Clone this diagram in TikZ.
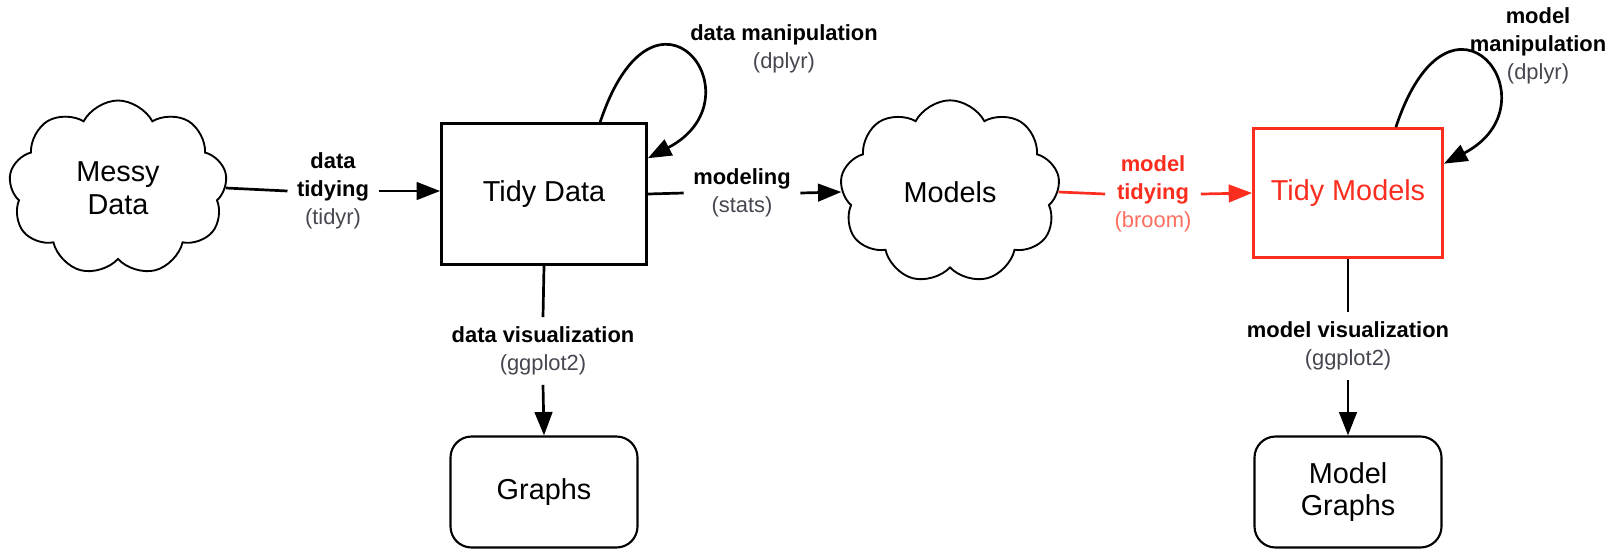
\documentclass[tikz,border=0pt]{standalone}
\usepackage{fontspec}
\setmainfont{Liberation Sans}
\usetikzlibrary{shapes.symbols,arrows.meta}
\definecolor{tidyred}{RGB}{250,45,30}
\definecolor{lightred}{RGB}{252,110,95}
\definecolor{pkggray}{RGB}{70,70,80}
\tikzset{
  blob/.style={cloud, cloud puffs=9, cloud puff arc=125, draw, line width=1.6pt, align=center, font=\fontsize{24.6}{28}\selectfont},
  box/.style={draw, line width=2.4pt, align=center, font=\fontsize{24.6}{28}\selectfont},
  result/.style={draw, rounded corners=18pt, line width=1.8pt, align=center, font=\fontsize{24.6}{28}\selectfont, minimum width=5.61cm, minimum height=3.33cm},
  lab/.style={align=center, inner sep=8pt, font=\bfseries\fontsize{18.7}{24}\selectfont},
  conn/.style={line width=2.3pt},
  arr/.style={line width=2.3pt, -{Triangle[length=20pt,width=15pt]}},
}
\newcommand\pkg[1]{{\mdseries\color{pkggray}#1}}
\begin{document}
\begin{tikzpicture}[x=0.03cm,y=-0.03cm]
\useasboundingbox (0,0) rectangle (1621,550);
% main objects
\node[blob, minimum width=6.55cm, minimum height=5.25cm] (messy) at (118,188) {Messy\\Data};
\node[box, minimum width=6.15cm, minimum height=4.23cm] (tidy) at (544,194) {Tidy Data};
\node[blob, minimum width=6.6cm, minimum height=5.5cm] (models) at (950,192) {Models};
\node[box, draw=tidyred, text=tidyred, minimum width=5.67cm, minimum height=3.87cm] (tidymod) at (1348,193) {Tidy Models};
\node[result] (graphs) at (544,492) {Graphs};
\node[result] (mgraphs) at (1348,492) {Model\\Graphs};
% labels
\node[lab] (ltidy) at (333,191) {data\\tidying\\\pkg{(tidyr)}};
\node[lab] (lstats) at (742,193) {modeling\\\pkg{(stats)}};
\node[lab, text=tidyred] (lbroom) at (1153,194) {model\\tidying\\{\mdseries\color{lightred}(broom)}};
\node[lab] (lmanip) at (784,49) {data manipulation\\\pkg{(dplyr)}};
\node[lab] (lmmanip) at (1538,46) {model\\manipulation\\\pkg{(dplyr)}};
\node[lab] (lvis) at (543,351) {data visualization\\\pkg{(ggplot2)}};
\node[lab] (lmvis) at (1348,346) {model visualization\\\pkg{(ggplot2)}};
% connectors
\draw[conn] (messy.east) -- (ltidy.west);
\draw[arr] (ltidy.east) -- (ltidy.east -| tidy.west);
\draw[conn] (tidy.east) -- (lstats.west);
\draw[arr] (lstats.east) -- (models.west);
\draw[conn, tidyred] (models.east) -- (lbroom.west);
\draw[arr, tidyred] (lbroom.east) -- (tidymod.west);
\draw[conn] (tidy.south) -- (lvis.north);
\draw[arr] (lvis.south) -- (graphs.north);
\draw[conn] (tidymod.south) -- (lmvis.north);
\draw[arr] (lmvis.south) -- (mgraphs.north);
% loops
\draw[arr] (tidy.52) .. controls +(55,-165) and +(115,-60) .. (tidy.19);
\draw[arr] (tidymod.54) .. controls +(55,-165) and +(115,-60) .. (tidymod.17);
\end{tikzpicture}
\end{document}
